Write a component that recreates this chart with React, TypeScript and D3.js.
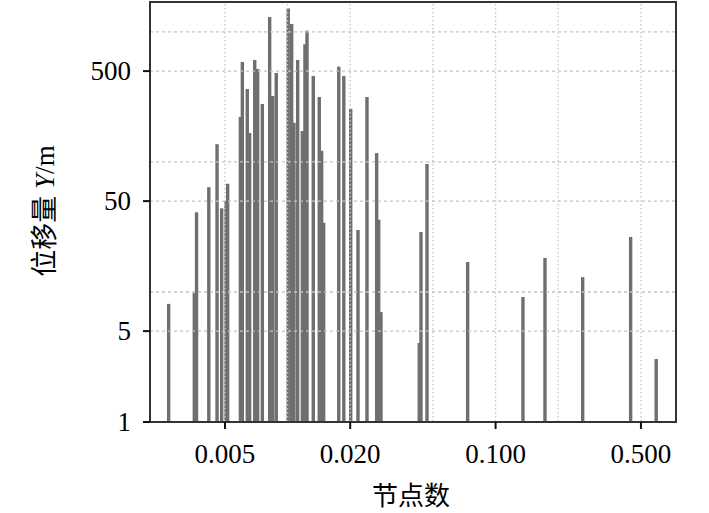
import React, { useRef, useEffect } from "react";
import * as d3 from "d3";

// node ratio (x) and displacement (y) of every stem
const nodeRatio = [
    0.00268, 0.00356, 0.00365, 0.00418, 0.00458, 0.00482, 0.00506, 0.00515,
    0.00593, 0.00606, 0.0064, 0.00657, 0.00695, 0.00718, 0.00756, 0.0082,
    0.00848, 0.00882, 0.01007, 0.01046, 0.01073, 0.01118, 0.01177, 0.01212,
    0.0124, 0.01329, 0.0142, 0.01458, 0.01491, 0.01762, 0.01863, 0.02011,
    0.0218, 0.02408, 0.02681, 0.02741, 0.02812, 0.04297, 0.04378, 0.0468,
    0.0734, 0.1354, 0.1728, 0.2623, 0.446, 0.592,
];
const displacement = [
    8.1, 9.8, 41, 64, 137, 44, 50, 68,
    222, 588, 364, 167, 609, 519, 279, 1304,
    322, 484, 1517, 1152, 200, 609, 173, 804,
    1023, 459, 316, 122, 34, 541, 459, 256,
    30, 316, 117, 36, 7.0, 4.05, 28.9, 96.5,
    17.0, 9.15, 18.3, 13.0, 26.5, 3.05,
];

const xTicks = [0.005, 0.02, 0.1, 0.5];
const xTickLabels = ["0.005", "0.020", "0.100", "0.500"];
const yTicks = [1, 5, 50, 500];
const xGrid = [0.005, 0.01, 0.02, 0.05, 0.1, 0.2, 0.5];
const yGrid = [5, 10, 50, 100, 500, 1000];

const App = () => {
    const chartRef = useRef();
    const width = 709;
    const height = 513;
    const left = 150;
    const right = 676;
    const top = 2;
    const bottom = 422;
    const serif = "'Liberation Serif', 'Times New Roman', serif";
    const cjk = "'Liberation Serif', 'Noto Sans CJK SC', serif";

    useEffect(() => {
        const root = d3.select(chartRef.current);
        root.selectAll("svg").remove();

        const svg = root
            .append("svg")
            .attr("width", width)
            .attr("height", height)
            .style("position", "absolute")
            .style("left", 0)
            .style("top", 0)
            .style("background", "#fff");

        const x = d3.scaleLog().domain([0.00218, 0.737]).range([left, right]);
        const y = d3.scaleLog().domain([1, 1700]).range([bottom, top]);

        // stems
        svg.append("g")
            .selectAll("rect")
            .data(nodeRatio.map((d, i) => ({ x: d, v: displacement[i] })))
            .enter()
            .append("rect")
            .attr("x", (d) => x(d.x) - 1.7)
            .attr("width", 3.4)
            .attr("y", (d) => y(d.v))
            .attr("height", (d) => y(1) - y(d.v))
            .attr("fill", "#6f6f6f");

        // grid drawn over the stems
        const grid = svg.append("g").attr("stroke", "#c4c4c4").attr("stroke-width", 1.3);
        grid.selectAll(".gx")
            .data(xGrid)
            .enter()
            .append("line")
            .attr("x1", (d) => x(d))
            .attr("x2", (d) => x(d))
            .attr("y1", top + 2)
            .attr("y2", bottom)
            .attr("stroke-dasharray", "1.5,2.5");
        grid.selectAll(".gy")
            .data(yGrid)
            .enter()
            .append("line")
            .attr("x1", left)
            .attr("x2", right)
            .attr("y1", (d) => y(d))
            .attr("y2", (d) => y(d))
            .attr("stroke-dasharray", "3,3");

        // frame
        svg.append("rect")
            .attr("x", left)
            .attr("y", top)
            .attr("width", right - left)
            .attr("height", bottom - top)
            .attr("fill", "none")
            .attr("stroke", "#333")
            .attr("stroke-width", 2);

        // x axis ticks
        svg.append("g")
            .selectAll("line")
            .data(xTicks)
            .enter()
            .append("line")
            .attr("x1", (d) => x(d))
            .attr("x2", (d) => x(d))
            .attr("y1", bottom)
            .attr("y2", bottom + 7)
            .attr("stroke", "#111")
            .attr("stroke-width", 2);
        svg.append("g")
            .selectAll("text")
            .data(xTicks)
            .enter()
            .append("text")
            .attr("x", (d) => x(d))
            .attr("y", 463)
            .attr("text-anchor", "middle")
            .style("font-family", serif)
            .style("font-size", "27px")
            .text((d, i) => xTickLabels[i]);

        // y axis ticks
        svg.append("g")
            .selectAll("line")
            .data(yTicks)
            .enter()
            .append("line")
            .attr("x1", left - 7)
            .attr("x2", left)
            .attr("y1", (d) => y(d))
            .attr("y2", (d) => y(d))
            .attr("stroke", "#111")
            .attr("stroke-width", 2);
        svg.append("g")
            .selectAll("text")
            .data(yTicks)
            .enter()
            .append("text")
            .attr("x", 131)
            .attr("y", (d) => y(d) + 8.5)
            .attr("text-anchor", "end")
            .style("font-family", serif)
            .style("font-size", "27px")
            .text((d) => String(d));

        // titles
        svg.append("text")
            .attr("x", 411)
            .attr("y", 505)
            .attr("text-anchor", "middle")
            .style("font-family", cjk)
            .style("font-size", "26px")
            .text("节点数");

        const yTitle = svg
            .append("text")
            .attr("transform", "translate(54,211) rotate(-90)")
            .attr("text-anchor", "middle")
            .style("font-family", cjk)
            .style("font-size", "27px");
        yTitle.append("tspan").text("位移量");
        yTitle.append("tspan").style("font-style", "italic").text(" Y");
        yTitle.append("tspan").text("/m");
    });

    return <div className="stem-chart" ref={chartRef}></div>;
};

export default App;
